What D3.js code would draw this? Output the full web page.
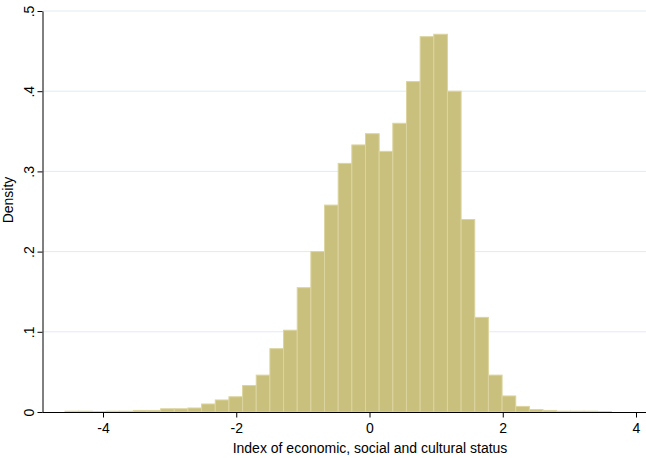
<!DOCTYPE html>
<html><head><meta charset="utf-8">
<script src="https://cdn.jsdelivr.net/npm/d3@7"></script>
<style>body{margin:0;background:#fff}text{font-family:"Liberation Sans",Arial,sans-serif}</style>
</head><body>
<script>
// histogram bins: start, width, density
const binStart = -4.57;
const binWidth = 0.205;
const density = [0.001,0.001,0.0005,0.001,0.001,0.002,0.002,0.004,0.004,0.005,
  0.010,0.015,0.019,0.033,0.046,0.079,0.102,0.155,0.200,0.258,0.310,0.333,
  0.347,0.325,0.360,0.412,0.468,0.471,0.400,0.240,0.118,0.046,0.020,0.007,
  0.003,0.002,0.001,0.001,0.001,0.0005];
const xTicks = [-4,-2,0,2,4];
const yTicks = [0,0.1,0.2,0.3,0.4,0.5];
const yLabels = ["0",".1",".2",".3",".4",".5"];

const w = 646, h = 458;
const svg = d3.select("body").append("svg").attr("width", w).attr("height", h);

const x = d3.scaleLinear().domain([-4,4]).range([103,636]);
const y = d3.scaleLinear().domain([0,0.5]).range([412,11]);

// gridlines
svg.selectAll("line.grid").data(yTicks.slice(1)).enter().append("line")
  .attr("x1", 43).attr("x2", 646)
  .attr("y1", d => y(d)).attr("y2", d => y(d))
  .attr("stroke", "#e3ebee").attr("stroke-width", 1);

// bars
svg.selectAll("rect").data(density).enter().append("rect")
  .attr("x", (d,i) => x(binStart + i*binWidth))
  .attr("width", x(binWidth) - x(0))
  .attr("y", d => y(d))
  .attr("height", d => y(0) - y(d))
  .attr("fill", "#c9c07e")
  .attr("stroke", "#dcd49f").attr("stroke-width", 1);

// axes
const xAxis = svg.append("g").attr("transform", "translate(0,412.5)")
  .call(d3.axisBottom(x).tickValues(xTicks).tickSize(5).tickSizeOuter(0).tickFormat(d => String(d)));
xAxis.select(".domain").attr("d", "M42.5,0H646");
xAxis.selectAll("text").attr("font-size", 14).attr("fill", "#000").attr("dy", "0.9em");

const yAxis = svg.append("g").attr("transform", "translate(42.5,0)")
  .call(d3.axisLeft(y).tickValues(yTicks).tickSize(5).tickSizeOuter(0).tickFormat((d,i) => yLabels[i]));
yAxis.selectAll("text").attr("font-size", 14).attr("fill", "#000")
  .attr("x", 0).attr("dy", 0).attr("text-anchor", "middle")
  .attr("transform", "translate(-9,0) rotate(-90)");

svg.append("text").attr("x", 370).attr("y", 453).attr("text-anchor", "middle")
  .attr("font-size", 14).text("Index of economic, social and cultural status");
svg.append("text").attr("transform", "translate(13,200) rotate(-90)").attr("text-anchor", "middle")
  .attr("font-size", 14).text("Density");
</script>
</body></html>
